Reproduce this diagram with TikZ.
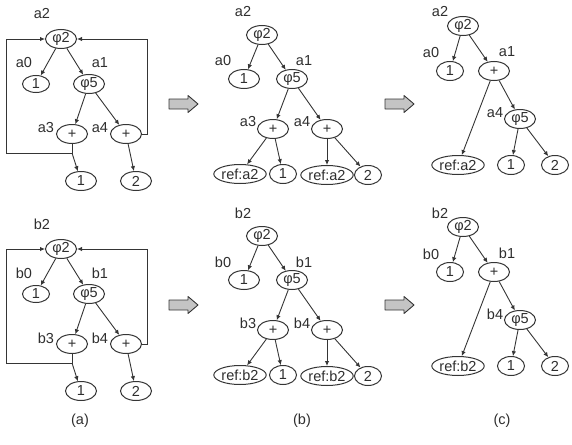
\documentclass[tikz,border=0pt]{standalone}
\usepackage{fontspec}
\setmainfont{Liberation Sans}
\usetikzlibrary{shapes.geometric,arrows.meta}
\definecolor{lc}{HTML}{353535}
\definecolor{tc}{HTML}{2E2E2E}
\definecolor{bf}{HTML}{C4C4C4}
\tikzset{
  every node/.style={font=\fontsize{14.5}{17}\selectfont, text=tc},
  en/.style={ellipse, draw=lc, line width=1pt, inner sep=0pt, minimum width=31pt, minimum height=19pt},
  ew/.style={en, minimum width=47pt, minimum height=19pt},
  lab/.style={inner sep=0pt},
  arr/.style={draw=lc, line width=0.9pt, -{Latex[length=5pt,width=4.5pt]}},
  barrow/.style={draw=lc, line width=0.9pt, fill=bf, line join=round}
}
\newcommand\panelA[2]{%
\begin{scope}[yshift=-#1pt]
\node[en] (#2Ap2) at (61,39) {φ2};
\node[en,minimum width=27pt,minimum height=17pt] (#2Aa0) at (36,84) {1};
\node[en] (#2Ap5) at (89,84) {φ5};
\node[en] (#2Ap3) at (72,134) {+};
\node[en] (#2Ap4) at (126,134) {+};
\node[en] (#2Ac1) at (81,181) {1};
\node[en] (#2Ac2) at (136,181) {2};
\node[lab] (#2Al2) at (42,14) {#22};
\node[lab] (#2Al0) at (24,63) {#20};
\node[lab] (#2Al1) at (100,63) {#21};
\node[lab] (#2Al3) at (46,128) {#23};
\node[lab] (#2Al4) at (100,128) {#24};
\coordinate (#2Ak) at (72,153);
\draw[arr] (#2Ap2) -- (#2Aa0);
\draw[arr] (#2Ap2) -- (#2Ap5);
\draw[arr] (#2Ap5) -- (#2Ap3);
\draw[arr] (#2Ap5) -- (#2Ap4);
\draw[arr] (#2Ak) -- (#2Ac1);
\draw[arr] (#2Ap4) -- (#2Ac2);
\draw[arr] (#2Ap3.south) -- (#2Ak) -- (6,153) |- (#2Ap2.west);
\draw[arr] (#2Ap4.east) -- ++(5,0) |- (#2Ap2.east);
\end{scope}}
\newcommand\blockarrow[3]{%
\begin{scope}[shift={(#1,#2)}]
\draw[barrow] (-14,-5) -- (5,-5) -- (5,-8.5) -- (15,0) -- (5,8.5) -- (5,5) -- (-14,5) -- cycle;
\coordinate (#3) at (0,0);
\end{scope}}
\newcommand\panelB[2]{%
\begin{scope}[yshift=-#1pt]
\node[en] (#2Bp2) at (262,35) {φ2};
\node[en] (#2Ba0) at (244,79) {1};
\node[en] (#2Bp5) at (292,79) {φ5};
\node[en] (#2Bp3) at (273,129) {+};
\node[en] (#2Bp4) at (327,129) {+};
\node[ew] (#2Br1) at (240,174) {ref:#22};
\node[en,minimum width=27pt] (#2Bc1) at (283,174) {1};
\node[ew] (#2Br2) at (327,175) {ref:#22};
\node[en,minimum width=27pt] (#2Bc2) at (368,175) {2};
\node[lab] (#2Bl2) at (243,12) {#22};
\node[lab] (#2Bl0) at (223,61) {#20};
\node[lab] (#2Bl1) at (304,61) {#21};
\node[lab] (#2Bl3) at (248,122) {#23};
\node[lab] (#2Bl4) at (302,122) {#24};
\draw[arr] (#2Bp2) -- (#2Ba0);
\draw[arr] (#2Bp2) -- (#2Bp5);
\draw[arr] (#2Bp5) -- (#2Bp3);
\draw[arr] (#2Bp5) -- (#2Bp4);
\draw[arr] (#2Bp3) -- (#2Br1);
\draw[arr] (#2Bp3) -- (#2Bc1);
\draw[arr] (#2Bp4) -- (#2Br2);
\draw[arr] (#2Bp4) -- (#2Bc2);
\blockarrow{183}{104}{#2Barr}
\end{scope}}
\newcommand\panelC[2]{%
\begin{scope}[yshift=-#1pt]
\node[en] (#2Cp2) at (463,26) {φ2};
\node[en,minimum width=27pt] (#2Ca0) at (450,71) {1};
\node[en] (#2Cp1) at (494,71) {+};
\node[en] (#2Cp5) at (520,119) {φ5};
\node[ew] (#2Cr) at (458,165) {ref:#22};
\node[en,minimum width=27pt] (#2Cc1) at (511,165) {1};
\node[en,minimum width=27pt] (#2Cc2) at (555,165) {2};
\node[lab] (#2Cl2) at (440,12) {#22};
\node[lab] (#2Cl0) at (431,53) {#20};
\node[lab] (#2Cl1) at (507,52) {#21};
\node[lab] (#2Cl4) at (495,113) {#24};
\draw[arr] (#2Cp2) -- (#2Ca0);
\draw[arr] (#2Cp2) -- (#2Cp1);
\draw[arr] (#2Cp1) -- (#2Cr);
\draw[arr] (#2Cp1) -- (#2Cp5);
\draw[arr] (#2Cp5) -- (#2Cc1);
\draw[arr] (#2Cp5) -- (#2Cc2);
\blockarrow{399}{104}{#2Carr}
\end{scope}}
\begin{document}
\begin{tikzpicture}[x=1pt,y=-1pt]
\useasboundingbox (0,0) rectangle (572,444);
\panelA{0}{a}
\panelA{210}{b}
\panelB{0}{a}
\panelB{201}{b}
\panelC{0}{a}
\panelC{201}{b}
\node[lab] (capa) at (80,421) {(a)};
\node[lab] (capb) at (302,421) {(b)};
\node[lab] (capc) at (502,421) {(c)};
\end{tikzpicture}
\end{document}
